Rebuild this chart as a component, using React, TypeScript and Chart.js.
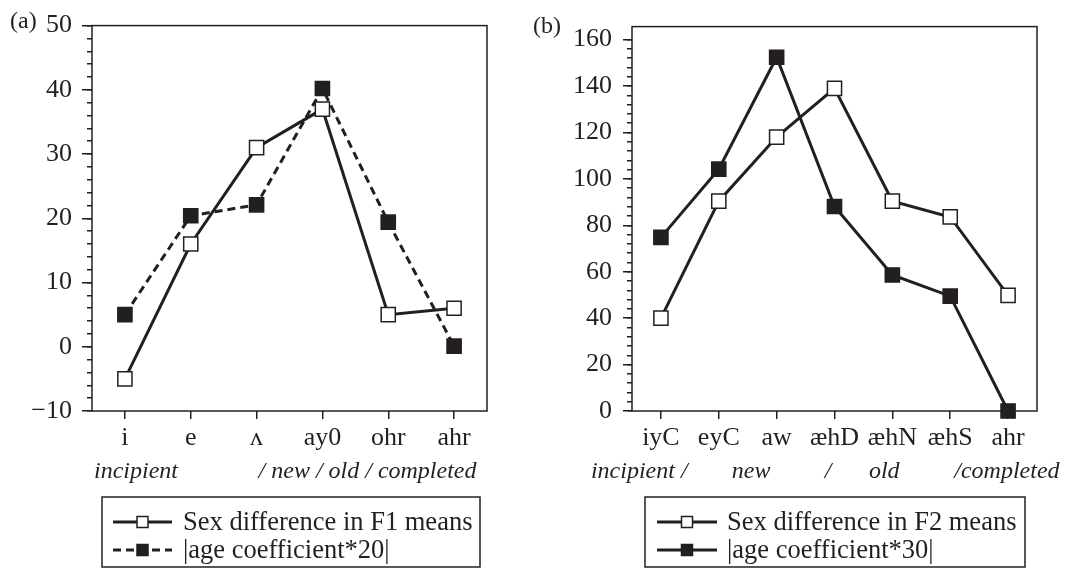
import React, { useEffect, useRef } from 'react';
import { Chart, registerables } from 'chart.js';

Chart.register(...registerables);

const FONT = '"Liberation Serif", "Times New Roman", "DejaVu Serif", serif';
const INK = '#231f20';

// ---- Panel (a) data ----
const categoriesA = ['i', 'e', 'ʌ', 'ay0', 'ohr', 'ahr'];
const sexDiffF1 = [-5, 16, 31, 37, 5, 6];
const ageCoef20 = [5, 20.4, 22.1, 40.2, 19.4, 0.1];
const stageLabelsA = ['incipient', '/ new / old / completed'];
const legendA = ['Sex difference in F1 means', '|age coefficient*20|'];

// ---- Panel (b) data ----
const categoriesB = ['iyC', 'eyC', 'aw', 'æhD', 'æhN', 'æhS', 'ahr'];
const sexDiffF2 = [40, 90.4, 118, 139, 90.4, 83.6, 49.8];
const ageCoef30 = [74.8, 104.2, 152.4, 88.1, 58.6, 49.5, 0];
const stageLabelsB = ['incipient /', 'new', '/', 'old', '/completed'];
const legendB = ['Sex difference in F2 means', '|age coefficient*30|'];

type Anno = { text: string; at: number; align: CanvasTextAlign };

const decorPlugin = {
  id: 'decor',
  beforeDatasetsDraw(chart: any) {
    const { ctx, chartArea: a } = chart;
    ctx.save();
    ctx.strokeStyle = INK;
    ctx.lineWidth = 1.5;
    ctx.strokeRect(a.left, a.top, a.right - a.left, a.bottom - a.top);
    ctx.restore();
  },
  afterDraw(chart: any, _args: any, opts: any) {
    const { ctx, chartArea: a } = chart;
    const xs = chart.scales.x;
    ctx.save();
    ctx.fillStyle = INK;
    // panel label
    ctx.font = `24px ${FONT}`;
    ctx.textAlign = 'left';
    ctx.textBaseline = 'alphabetic';
    ctx.fillText(opts.panel.text, opts.panel.x, opts.panel.y);
    // italic stage row
    ctx.font = `italic 24px ${FONT}`;
    (opts.stages as Anno[]).forEach((s) => {
      ctx.textAlign = s.align;
      ctx.fillText(s.text, xs.getPixelForValue(s.at), a.bottom + opts.stageOffset);
    });
    // legend
    const lg = opts.legend;
    ctx.strokeStyle = INK;
    ctx.lineWidth = 1.5;
    ctx.strokeRect(lg.x, lg.y, lg.w, lg.h);
    chart.data.datasets.forEach((ds: any, i: number) => {
      const cy = lg.rows[i];
      ctx.save();
      ctx.strokeStyle = ds.borderColor;
      ctx.lineWidth = ds.borderWidth;
      ctx.setLineDash(ds.borderDash || []);
      ctx.beginPath();
      ctx.moveTo(lg.x1, cy);
      ctx.lineTo(lg.x2, cy);
      ctx.stroke();
      ctx.restore();
      const mx = (lg.x1 + lg.x2) / 2;
      const half = lg.marker / 2;
      ctx.fillStyle = ds.pointBackgroundColor;
      ctx.fillRect(mx - half, cy - half, lg.marker, lg.marker);
      ctx.strokeStyle = ds.pointBorderColor;
      ctx.lineWidth = 1.5;
      ctx.strokeRect(mx - half, cy - half, lg.marker, lg.marker);
      ctx.fillStyle = INK;
      ctx.font = `26.5px ${FONT}`;
      ctx.textAlign = 'left';
      ctx.textBaseline = 'middle';
      ctx.fillText(ds.label, lg.textX, cy + 1);
    });
    ctx.restore();
  },
};

function makeDataset(label: string, data: number[], filled: boolean, dashed: boolean) {
  return {
    label,
    data,
    borderColor: INK,
    borderWidth: 3,
    borderDash: dashed ? [8, 5] : [],
    pointStyle: 'rect',
    pointRadius: 10,
    pointHoverRadius: 10,
    pointBackgroundColor: filled ? INK : '#ffffff',
    pointBorderColor: INK,
    pointBorderWidth: 1.5,
    tension: 0,
    fill: false,
    clip: false,
    xAxisID: 'x',
    yAxisID: 'y',
  };
}

function makeConfig(p: any) {
  const tickFont = { family: FONT, size: 26 };
  const keep = (max: number) => (s: any) => {
    s.ticks = s.ticks.filter((t: any) => t.value <= max + 1e-9);
  };
  return {
    type: 'line',
    data: { labels: p.labels, datasets: p.datasets },
    plugins: [decorPlugin],
    options: {
      responsive: false,
      animation: false,
      events: [],
      layout: { padding: { left: 0, right: p.padRight, top: p.padTop, bottom: 0 } },
      plugins: {
        legend: { display: false },
        tooltip: { enabled: false },
        decor: p.decor,
      },
      scales: {
        x: {
          type: 'category',
          position: 'bottom',
          offset: true,
          border: { display: false },
          grid: {
            display: true,
            drawOnChartArea: false,
            drawTicks: true,
            tickLength: 8,
            color: INK,
            lineWidth: 1.5,
            offset: false,
          },
          ticks: { font: tickFont, color: INK, padding: 4, autoSkip: false, maxRotation: 0 },
          afterFit: (s: any) => {
            s.height = p.xAxisH;
          },
        },
        y: {
          type: 'linear',
          position: 'left',
          weight: 1,
          min: p.yMin,
          max: p.yMax,
          border: { display: false },
          grid: { drawOnChartArea: false, tickLength: p.majorLen, color: INK, lineWidth: 1.5 },
          ticks: {
            stepSize: p.major,
            includeBounds: false,
            maxTicksLimit: 200,
            font: tickFont,
            color: INK,
            padding: p.labelPad,
            autoSkip: false,
            callback: (v: any) => (Number(v) < 0 ? '\u2212' + Math.abs(Number(v)) : String(v)),
          },
          afterBuildTicks: keep(p.tickMax),
          afterFit: (s: any) => {
            s.width = p.axisW;
          },
        },
        yMinor: {
          type: 'linear',
          position: 'left',
          weight: 0,
          min: p.yMin,
          max: p.yMax,
          border: { display: false },
          grid: { drawOnChartArea: false, tickLength: 5, color: INK, lineWidth: 1.5 },
          ticks: { display: false, stepSize: p.minor, includeBounds: false, maxTicksLimit: 200 },
          afterBuildTicks: keep(p.tickMax),
          afterFit: (s: any) => {
            s.width = 0;
          },
        },
      },
    },
  };
}

const configA = () =>
  makeConfig({
    labels: categoriesA,
    datasets: [
      makeDataset(legendA[0], sexDiffF1, false, false),
      makeDataset(legendA[1], ageCoef20, true, true),
    ],
    yMin: -10,
    yMax: 50,
    tickMax: 50,
    major: 10,
    minor: 2,
    axisW: 92,
    majorLen: 10,
    labelPad: 10,
    padRight: 46,
    padTop: 19.8,
    xAxisH: 158,
    decor: {
      panel: { text: '(a)', x: 10, y: 28 },
      stageOffset: 67,
      stages: [
        { text: stageLabelsA[0], at: -0.47, align: 'left' },
        { text: stageLabelsA[1], at: 2.03, align: 'left' },
      ],
      legend: { x: 102, y: 497, w: 378, h: 70, rows: [522, 550], x1: 113, x2: 172, marker: 11, textX: 183 },
    },
  });

const configB = () =>
  makeConfig({
    labels: categoriesB,
    datasets: [
      makeDataset(legendB[0], sexDiffF2, false, false),
      makeDataset(legendB[1], ageCoef30, true, false),
    ],
    yMin: 0,
    yMax: 165.6,
    tickMax: 160,
    major: 20,
    minor: 4,
    axisW: 99,
    majorLen: 9,
    labelPad: 11,
    padRight: 30,
    padTop: 19.5,
    xAxisH: 158,
    decor: {
      panel: { text: '(b)', x: 0, y: 33 },
      stageOffset: 67,
      stages: [
        { text: stageLabelsB[0], at: -1.21, align: 'left' },
        { text: stageLabelsB[1], at: 1.56, align: 'center' },
        { text: stageLabelsB[2], at: 2.89, align: 'center' },
        { text: stageLabelsB[3], at: 3.86, align: 'center' },
        { text: stageLabelsB[4], at: 5.07, align: 'left' },
      ],
      legend: { x: 112, y: 497, w: 380, h: 70, rows: [522, 550], x1: 124, x2: 184, marker: 11, textX: 194 },
    },
  });

function ChartCanvas({ build, left, width }: { build: () => any; left: number; width: number }) {
  const ref = useRef<HTMLCanvasElement | null>(null);
  useEffect(() => {
    if (!ref.current) return;
    const chart = new Chart(ref.current, build());
    return () => chart.destroy();
  }, [build]);
  return (
    <canvas
      ref={ref}
      width={width}
      height={569}
      style={{ position: 'absolute', left, top: 0, width, height: 569 }}
    />
  );
}

export default function App() {
  return (
    <div style={{ position: 'fixed', left: 0, top: 0, width: 1067, height: 569, background: '#fff' }}>
      <ChartCanvas build={configA} left={0} width={533} />
      <ChartCanvas build={configB} left={533} width={534} />
    </div>
  );
}
